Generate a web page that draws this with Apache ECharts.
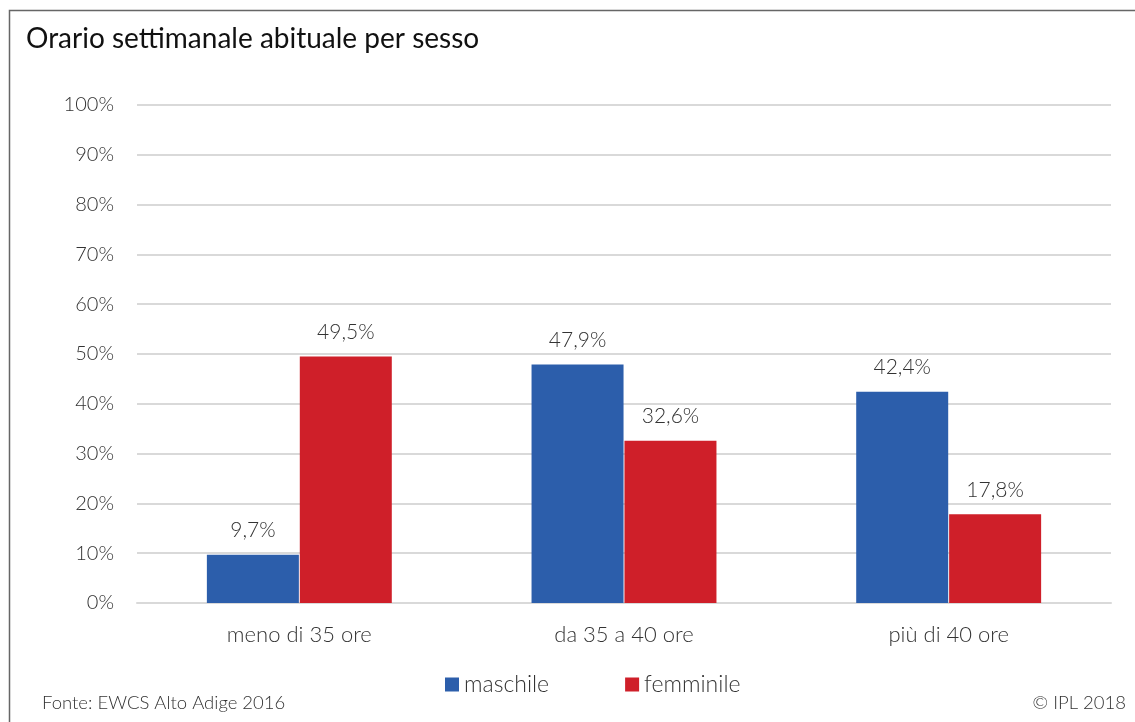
<!DOCTYPE html>
<html>
<head>
<meta charset="utf-8">
<script src="https://cdn.jsdelivr.net/npm/echarts@6/dist/echarts.min.js"></script>
<style>
  html, body { margin: 0; padding: 0; background: #fff; }
  #chart { width: 1135px; height: 722px; }
</style>
</head>
<body>
<div id="chart"></div>
<script>
// Weekly working hours by sex
const categories = ['meno di 35 ore', 'da 35 a 40 ore', 'più di 40 ore'];
const maschile = [9.7, 47.9, 42.4];
const femminile = [49.5, 32.6, 17.8];
const seriesNames = ['maschile', 'femminile'];
const titleText = 'Orario settimanale abituale per sesso';
const sourceText = 'Fonte: EWCS Alto Adige 2016';
const creditText = '© IPL 2018';

const FONT = 'Lato, "Open Sans", sans-serif';
const fmt = v => v.toFixed(1).replace('.', ',') + '%';

const chart = echarts.init(document.getElementById('chart'));

const labelStyle = {
  show: true,
  position: 'top',
  distance: 14,
  fontFamily: FONT,
  fontWeight: 300,
  fontSize: 21,
  color: '#333',
  formatter: p => fmt(p.value)
};

chart.setOption({
  animation: false,
  textStyle: { fontFamily: FONT },
  title: {
    text: titleText,
    left: 21,
    top: 20,
    textStyle: { fontFamily: FONT, fontSize: 28, fontWeight: 400, color: '#111' }
  },
  legend: {
    data: seriesNames,
    bottom: 21,
    left: 440,
    itemWidth: 14,
    itemHeight: 14,
    itemGap: 76,
    icon: 'rect',
    textStyle: { fontFamily: FONT, fontSize: 23, fontWeight: 300, color: '#333' }
  },
  grid: { left: 137, right: 24, top: 105, bottom: 119 },
  xAxis: {
    type: 'category',
    data: categories,
    axisLine: { show: true, lineStyle: { color: '#d9d9d9', width: 2 } },
    axisTick: { show: false },
    axisLabel: { margin: 21, fontFamily: FONT, fontSize: 22, fontWeight: 300, color: '#333' }
  },
  yAxis: {
    type: 'value',
    min: 0,
    max: 100,
    interval: 10,
    axisLine: { show: false },
    axisTick: { show: false },
    axisLabel: {
      margin: 23,
      fontFamily: FONT, fontSize: 20, fontWeight: 300, color: '#333',
      formatter: v => v + '%'
    },
    splitLine: { lineStyle: { color: '#d9d9d9', width: 2 } }
  },
  series: [
    {
      name: seriesNames[0],
      type: 'bar',
      data: maschile,
      barWidth: 92,
      barGap: '1%',
      itemStyle: { color: '#2c5eab' },
      label: labelStyle
    },
    {
      name: seriesNames[1],
      type: 'bar',
      data: femminile,
      barWidth: 92,
      barGap: '1%',
      itemStyle: { color: '#cf1f29' },
      label: labelStyle
    }
  ],
  graphic: [
    {
      type: 'polyline',
      shape: { points: [[9.5, 722], [9.5, 10.5], [1135, 10.5]] },
      style: { stroke: '#666', lineWidth: 1.5, fill: null }
    },
    {
      type: 'text',
      left: 42,
      top: 694,
      style: { text: sourceText, fontFamily: FONT, fontSize: 18.5, fontWeight: 300, fill: '#333' }
    },
    {
      type: 'text',
      right: 9,
      top: 694,
      style: { text: creditText, fontFamily: FONT, fontSize: 18.5, fontWeight: 300, fill: '#333' }
    }
  ]
});
</script>
</body>
</html>
